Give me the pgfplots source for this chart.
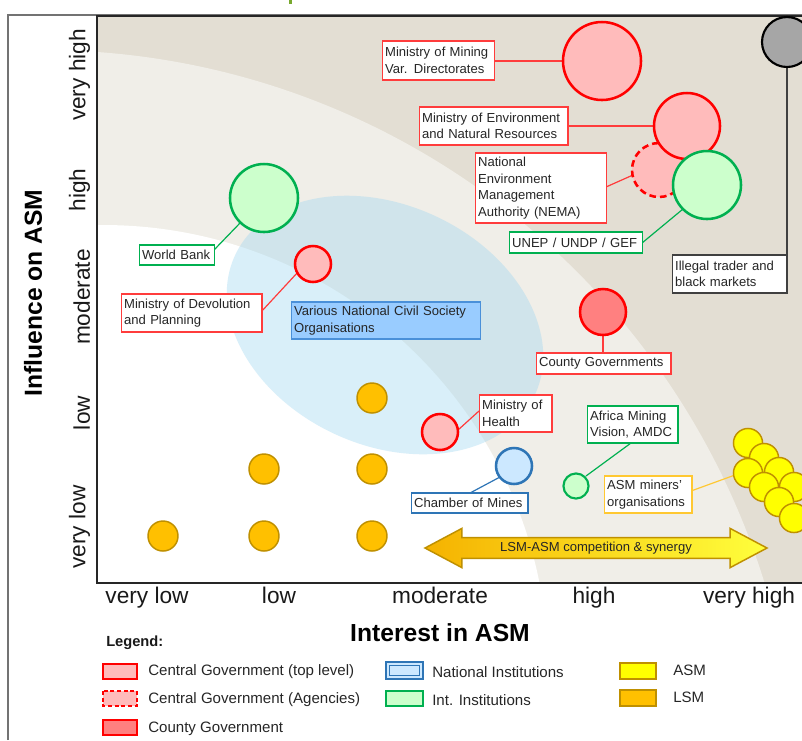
\documentclass[border=0pt]{standalone}
\usepackage{pgfplots}
\pgfplotsset{compat=1.18}
\usepackage{fontspec}
\setmainfont{Liberation Sans}
\usetikzlibrary{shapes.arrows}

\definecolor{bgdark}{RGB}{227,222,211}
\definecolor{bglight}{RGB}{240,238,232}
\definecolor{ellblue}{RGB}{160,215,240}
\definecolor{cgfill}{RGB}{255,187,187}
\definecolor{cgdraw}{RGB}{255,0,0}
\definecolor{countyfill}{RGB}{255,128,128}
\definecolor{nifill}{RGB}{204,232,255}
\definecolor{nidraw}{RGB}{46,117,182}
\definecolor{iifill}{RGB}{204,255,204}
\definecolor{iidraw}{RGB}{0,176,80}
\definecolor{asmfill}{RGB}{255,255,0}
\definecolor{lsmfill}{RGB}{255,192,0}
\definecolor{golddraw}{RGB}{191,144,0}
\definecolor{grayfill}{RGB}{166,166,166}
\definecolor{boxred}{RGB}{255,60,60}
\definecolor{boxgold}{RGB}{255,200,50}
\definecolor{csofill}{RGB}{153,204,255}
\definecolor{csodraw}{RGB}{74,144,217}
\definecolor{arrowL}{RGB}{245,178,0}
\definecolor{arrowR}{RGB}{255,255,60}
\definecolor{titlegreen}{RGB}{120,168,46}

\newcommand\ml[1]{\mbox{#1}}

\tikzset{
  lbl/.style={draw=#1, fill=white, line width=1.1pt, text=black!85,
    font=\fontsize{9.8}{12.4}\selectfont, align=left, anchor=west,
    inner xsep=1.8pt, inner ysep=0pt},
  con/.style={draw=#1, line width=0.9pt},
}

\begin{document}
\begin{tikzpicture}
\begin{axis}[
  x=0.75pt, y=0.75pt, y dir=reverse,
  xmin=97, xmax=806, ymin=16, ymax=583,
  clip=false, axis on top,
  axis line style={line width=1.5pt, black!85},
  xtick={147,279,440,594,749},
  xticklabels={very low,low,moderate,high,very high},
  ytick={75,190,297,413,527},
  yticklabels={very high,high,moderate,low,very low},
  major tick length=0pt,
  tick label style={font=\fontsize{17}{20}\selectfont, text=black!90},
  xticklabel style={anchor=north, inner sep=0pt, yshift=-3pt},
  yticklabel style={rotate=90, anchor=south, inner sep=0pt, yshift=5pt},
]
\coordinate (BBa) at (axis cs:0,0);
\coordinate (BBb) at (axis cs:802,740);

% background bands and the civil society ellipse
\begin{scope}
  \clip (axis cs:97,16) rectangle (axis cs:806,583);
  \fill[bgdark] (axis cs:97,16) rectangle (axis cs:806,583);
  \fill[bglight] (axis cs:42,806) circle[radius=567pt];
  \fill[white] (axis cs:103,670) circle[radius=333.75pt];
  \fill[ellblue, opacity=0.4] (axis cs:385,325) ellipse[x radius=124pt, y radius=90pt, rotate=-25];
\end{scope}

% connectors
\draw[con=boxred] (axis cs:493,61) -- (axis cs:563,61);
\draw[con=boxred] (axis cs:567,126) -- (axis cs:654,126);
\draw[con=boxred] (axis cs:606,187) -- (axis cs:633,175);
\draw[con=iidraw] (axis cs:642,243) -- (axis cs:683,209);
\draw[line width=1.1pt, black!75] (axis cs:787,67) -- (axis cs:787,255);
\draw[con=iidraw] (axis cs:214,250) -- (axis cs:241,222);
\draw[con=boxred] (axis cs:261,312) -- (axis cs:298,272);
\draw[con=boxred] (axis cs:603,335) -- (axis cs:603,353);
\draw[con=boxred] (axis cs:458,430) -- (axis cs:479,411);
\draw[con=nidraw] (axis cs:470,493) -- (axis cs:500,477);
\draw[con=iidraw] (axis cs:631,443) -- (axis cs:586,476);
\draw[con=boxgold] (axis cs:691,491) -- (axis cs:735,475);

% stakeholders
\addplot[only marks, mark=*, mark size=20.25pt, mark options={draw=cgdraw, fill=cgfill, line width=1.9pt, dash pattern=on 5pt off 3pt}] coordinates {(659,170)};
\addplot[only marks, mark=*, mark size=29.25pt, mark options={draw=cgdraw, fill=cgfill, line width=1.9pt}] coordinates {(602,61)};
\addplot[only marks, mark=*, mark size=24.75pt, mark options={draw=cgdraw, fill=cgfill, line width=1.9pt}] coordinates {(687,126)};
\addplot[only marks, mark=*, mark size=25.5pt, mark options={draw=iidraw, fill=iifill, line width=1.9pt}] coordinates {(707,185)};
\addplot[only marks, mark=*, mark size=18.75pt, mark options={draw=black, fill=grayfill, line width=1.6pt}] coordinates {(787,42)};
\addplot[only marks, mark=*, mark size=25.5pt, mark options={draw=iidraw, fill=iifill, line width=1.9pt}] coordinates {(264,198)};
\addplot[only marks, mark=*, mark size=13.5pt, mark options={draw=cgdraw, fill=cgfill, line width=1.9pt}] coordinates {(313,264)};
\addplot[only marks, mark=*, mark size=17.25pt, mark options={draw=cgdraw, fill=countyfill, line width=1.9pt}] coordinates {(603,312)};
\addplot[only marks, mark=*, mark size=13.5pt, mark options={draw=cgdraw, fill=cgfill, line width=1.9pt}] coordinates {(440,432)};
\addplot[only marks, mark=*, mark size=13.5pt, mark options={draw=nidraw, fill=nifill, line width=1.9pt}] coordinates {(514,466)};
\addplot[only marks, mark=*, mark size=9.4pt, mark options={draw=iidraw, fill=iifill, line width=1.6pt}] coordinates {(576,486)};
% LSM
\addplot[only marks, mark=*, mark size=11.25pt, mark options={draw=golddraw, fill=lsmfill, line width=1.1pt}] coordinates {
  (163,536) (264,536) (372,536) (264,469) (372,469) (372,398)};
% ASM
\addplot[only marks, mark=*, mark size=10.9pt, mark options={draw=golddraw, fill=asmfill, line width=1.1pt}] coordinates {
  (748,443) (764,458) (748,473) (779,472) (764,487) (794,487) (779,502) (794,518)};

% labels
\node[lbl=boxred, text width=80.25pt, minimum height=29.25pt] at (axis cs:382,60.5) {\ml{Ministry of Mining}\\\ml{Var. Directorates}};
\node[lbl=boxred, text width=107.5pt, minimum height=28.5pt] at (axis cs:419,126) {\ml{Ministry of Environment}\\\ml{and Natural Resources}};
\node[lbl=boxred, text width=94.5pt, minimum height=52.5pt] at (axis cs:475,188) {National\\Environment\\Management\\\ml{Authority (NEMA)}};
\node[lbl=iidraw, text width=96pt, minimum height=15.75pt] at (axis cs:509,242.5) {\ml{UNEP / UNDP / GEF}};
\node[lbl=black!75, text width=82pt, minimum height=28.5pt] at (axis cs:672,274) {\ml{Illegal trader and}\\\ml{black markets}};
\node[lbl=iidraw, text width=52.5pt, minimum height=15pt] at (axis cs:139,255) {\ml{World Bank}};
\node[lbl=boxred, text width=101.5pt, minimum height=28.5pt] at (axis cs:121,313) {\ml{Ministry of Devolution}\\\ml{and Planning}};
\node[lbl=csodraw, fill=csofill, text width=138pt, minimum height=27.75pt] at (axis cs:291,320.5) {\ml{Various National Civil Society}\\\ml{Organisations}};
\node[lbl=boxred, text width=97pt, minimum height=15.75pt] at (axis cs:536,363.5) {\ml{County Governments}};
\node[lbl=boxred, text width=50.5pt, minimum height=27.75pt] at (axis cs:479,413.5) {\ml{Ministry of}\\\ml{Health}};
\node[lbl=nidraw, text width=83.5pt, minimum height=15pt] at (axis cs:411,503) {\ml{Chamber of Mines}};
\node[lbl=iidraw, text width=64pt, minimum height=27.75pt] at (axis cs:587,424.5) {\ml{Africa Mining}\\\ml{Vision, AMDC}};
\node[lbl=boxgold, text width=61.75pt, minimum height=27.75pt] at (axis cs:604,494.5) {\ml{ASM miners'}\\\ml{organisations}};

% competition arrow
\node[double arrow, draw=golddraw, line width=1.1pt, left color=arrowL, right color=arrowR,
  minimum height=256.5pt, double arrow head extend=7pt, double arrow tip angle=56,
  inner ysep=2.6pt, inner xsep=0pt, font=\fontsize{9.8}{12}\selectfont, text=black!85]
  at (axis cs:596,548) {LSM-ASM competition \& synergy};

% axis titles
\node[font=\bfseries\fontsize{18.5}{22}\selectfont, rotate=90] at (axis cs:33,293) {Influence on ASM};
\node[font=\bfseries\fontsize{18.5}{22}\selectfont] at (axis cs:440,633) {Interest in ASM};

% outer frame and the edge of the cropped title above it
\draw[black!55, line width=1.5pt] (axis cs:8,740) -- (axis cs:8,15) -- (axis cs:802,15);
\fill[titlegreen] (axis cs:289,0) rectangle (axis cs:292,4);

% legend
\node[font=\bfseries\fontsize{11}{13}\selectfont, anchor=west, inner sep=0pt, text=black!90] at (axis cs:106,643) {Legend:};
\draw[cgdraw, fill=cgfill, line width=1.3pt] (axis cs:103,664) rectangle (axis cs:137,679);
\draw[cgdraw, fill=cgfill, line width=1.3pt, dash pattern=on 3pt off 2pt] (axis cs:103,691) rectangle (axis cs:137,706);
\draw[cgdraw, fill=countyfill, line width=1.3pt] (axis cs:103,720) rectangle (axis cs:137,735);
\draw[nidraw, fill=nifill, line width=1.3pt] (axis cs:386,662) rectangle (axis cs:423,679);
\draw[nidraw, line width=0.6pt] (axis cs:389.5,665.5) rectangle (axis cs:419.5,675.5);
\draw[iidraw, fill=iifill, line width=1.3pt] (axis cs:386,691) rectangle (axis cs:423,706);
\draw[golddraw, fill=asmfill, line width=1.3pt] (axis cs:620,663) rectangle (axis cs:656,679);
\draw[golddraw, fill=lsmfill, line width=1.3pt] (axis cs:620,690) rectangle (axis cs:656,706);
\begin{scope}[every node/.style={font=\fontsize{11.3}{13}\selectfont, anchor=west, inner sep=0pt, text=black!85}]
  \node at (axis cs:148,672) {Central Government (top level)};
  \node at (axis cs:148,700) {Central Government (Agencies)};
  \node at (axis cs:148,729) {County Government};
  \node at (axis cs:432,672) {National Institutions};
  \node at (axis cs:432,700) {Int. Institutions};
  \node at (axis cs:673,670) {ASM};
  \node at (axis cs:673,697) {LSM};
\end{scope}
\end{axis}
\pgfresetboundingbox
\path[use as bounding box] (BBa) rectangle (BBb);
\end{tikzpicture}
\end{document}
